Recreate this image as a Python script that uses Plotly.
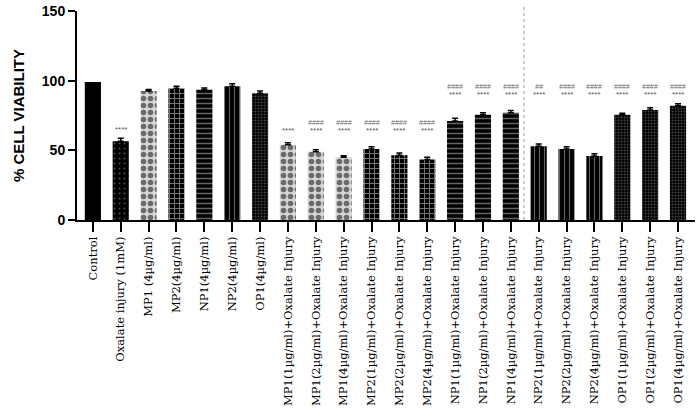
import plotly.graph_objects as go

categories = [
    "Control", "Oxalate injury (1mM)", "MP1 (4µg/ml)", "MP2(4µg/ml)", "NP1(4µg/ml)",
    "NP2(4µg/ml)", "OP1(4µg/ml)",
    "MP1(1µg/ml)+Oxalate Injury", "MP1(2µg/ml)+Oxalate Injury", "MP1(4µg/ml)+Oxalate Injury",
    "MP2(1µg/ml)+Oxalate Injury", "MP2(2µg/ml)+Oxalate Injury", "MP2(4µg/ml)+Oxalate Injury",
    "NP1(1µg/ml)+Oxalate Injury", "NP1(2µg/ml)+Oxalate Injury", "NP1(4µg/ml)+Oxalate Injury",
    "NP2(1µg/ml)+Oxalate Injury", "NP2(2µg/ml)+Oxalate Injury", "NP2(4µg/ml)+Oxalate Injury",
    "OP1(1µg/ml)+Oxalate Injury", "OP1(2µg/ml)+Oxalate Injury", "OP1(4µg/ml)+Oxalate Injury",
]
values = [99, 56.5, 92.5, 94.5, 93.5, 96, 91,
          54, 49, 45, 51, 46.5, 43.5,
          71, 75.5, 77, 53, 51, 46,
          75.5, 79, 82]
errors = [0, 2.2, 1.2, 1.5, 1.2, 1.8, 1.5,
          1.5, 1.5, 1.2, 1.5, 1.5, 1.5,
          2, 1.5, 1.5, 1.5, 1.5, 1.5,
          1.2, 1.5, 1.5]
groups = ["control", "ox", "mp1", "mp2", "np1", "np2", "op1",
          "mp1", "mp1", "mp1", "mp2", "mp2", "mp2",
          "np1", "np1", "np1", "np2", "np2", "np2",
          "op1", "op1", "op1"]
stars = ["", "****", "", "", "", "", "",
         "****", "****", "****", "****", "****", "****",
         "****", "****", "****", "****", "****", "****",
         "****", "****", "****"]
hashes = ["", "", "", "", "", "", "",
          "", "####", "####", "####", "####", "####",
          "####", "####", "####", "##", "####", "####",
          "####", "####", "####"]
star_level = [0, 65, 0, 0, 0, 0, 0,
              64, 64, 64, 64, 64, 64,
              90, 90, 90, 90, 90, 90,
              90, 90, 90]
hash_level = [0, 0, 0, 0, 0, 0, 0,
              0, 70, 70, 70, 70, 70,
              96, 96, 96, 96, 96, 96,
              96, 96, 96]

styles = {
    "control": dict(shape="", bg="black", fg="black", size=8, sol=0.3),
    "ox": dict(shape=".", bg="black", fg="#9a9a9a", size=5, sol=0.12),
    "mp1": dict(shape=".", bg="#d6d6d6", fg="black", size=7, sol=0.5),
    "mp2": dict(shape="+", bg="black", fg="#f0f0f0", size=5, sol=0.35),
    "np1": dict(shape="-", bg="black", fg="#c8c8c8", size=5, sol=0.3),
    "np2": dict(shape="|", bg="black", fg="#c8c8c8", size=5, sol=0.22),
    "op1": dict(shape=".", bg="black", fg="#8a8a8a", size=3, sol=0.35),
}

x = list(range(len(categories)))
fig = go.Figure()
for g, st in styles.items():
    idx = [i for i in x if groups[i] == g]
    fig.add_trace(go.Bar(
        x=[x[i] for i in idx], y=[values[i] for i in idx], width=0.58,
        marker=dict(
            color=st["bg"],
            line=dict(width=0),
            pattern=dict(shape=st["shape"], fgcolor=st["fg"], size=st["size"],
                         solidity=st["sol"], fillmode="overlay"),
        ),
        error_y=dict(type="data", array=[errors[i] for i in idx], color="black",
                     thickness=1.5, width=3, symmetric=False,
                     arrayminus=[0] * len(idx), visible=(g != "control")),
        showlegend=False,
    ))

for i in x:
    if stars[i]:
        fig.add_annotation(x=i, y=star_level[i], text=stars[i], showarrow=False,
                           font=dict(size=8, color="#555555", family="Arial"), yanchor="middle")
    if hashes[i]:
        fig.add_annotation(x=i, y=hash_level[i], text="<i>" + hashes[i] + "</i>", showarrow=False,
                           font=dict(size=7, color="#666666", family="Arial"), yanchor="middle")

fig.add_shape(type="line", x0=15.47, x1=15.47, xref="x", y0=0, y1=1.02, yref="paper",
              line=dict(color="#999999", width=1, dash="dot"))

fig.update_layout(
    width=699, height=415,
    margin=dict(l=77, r=4, t=11, b=195),
    plot_bgcolor="white", paper_bgcolor="white",
    barmode="overlay",
)
fig.update_xaxes(
    range=[-0.57, 21.61], tickmode="array", tickvals=x, ticktext=categories,
    tickangle=-90, ticks="outside", ticklen=10, tickwidth=2, tickcolor="black",
    showline=True, linecolor="black", linewidth=2, showgrid=False, zeroline=False,
    tickfont=dict(family="DejaVu Serif", size=11.5, color="black"), automargin=False,
)
fig.update_yaxes(
    range=[0, 150], tickvals=[0, 50, 100, 150], ticks="outside", ticklen=7, tickwidth=2,
    tickcolor="black", showline=True, linecolor="black", linewidth=2, showgrid=False,
    zeroline=False, tickfont=dict(family="Arial", size=14, color="black", weight="bold"),
    title=dict(text="% CELL VIABILITY", font=dict(family="Arial", size=15, color="black", weight="bold"),
               standoff=14),
    automargin=False, ticklabeloverflow="allow",
)
fig.write_html("out.html", config={"displayModeBar": False},
               post_script="document.body.style.margin='0';")
